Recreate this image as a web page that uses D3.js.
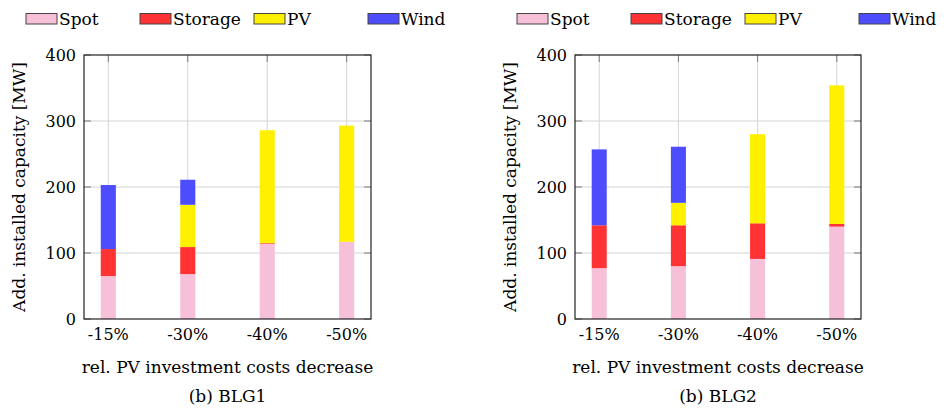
<!DOCTYPE html>
<html>
<head>
<meta charset="utf-8">
<script src="https://cdn.jsdelivr.net/npm/d3@7"></script>
<style>
  html, body { margin: 0; padding: 0; background: #fff; }
  svg { display: block; }
  text { font-family: "DejaVu Serif", "Liberation Serif", serif; fill: #000; }
</style>
</head>
<body>
<svg id="chart" width="944" height="412"></svg>
<script>
const categories = ["-15%", "-30%", "-40%", "-50%"];
const seriesNames = ["Spot", "Storage", "PV", "Wind"];
const seriesColors = ["#f6c0d8", "#ff3333", "#fff000", "#4d4dff"];
const yTicks = [0, 100, 200, 300, 400];

const blg1Spot = [65, 68, 114, 117];
const blg1Storage = [41, 41, 1, 0];
const blg1PV = [0, 64, 171, 176];
const blg1Wind = [97, 38, 0, 0];

const blg2Spot = [77, 80, 91, 140];
const blg2Storage = [65, 62, 54, 4];
const blg2PV = [0, 34, 135, 210];
const blg2Wind = [115, 85, 0, 0];

const yLabel = "Add. installed capacity [MW]";
const xLabel = "rel. PV investment costs decrease";
const captions = ["(b) BLG1", "(b) BLG2"];

const panels = [
  { x0: 84, x1: 371, caption: captions[0], series: [blg1Spot, blg1Storage, blg1PV, blg1Wind] },
  { x0: 575, x1: 861, caption: captions[1], series: [blg2Spot, blg2Storage, blg2PV, blg2Wind] }
];

const svg = d3.select("#chart");
const yTop = 55, yBottom = 319;
const y = d3.scaleLinear().domain([0, 400]).range([yBottom, yTop]);

panels.forEach(p => {
  const g = svg.append("g");
  const x = d3.scalePoint().domain(categories).range([p.x0, p.x1]).padding(0.306);
  const bw = x.step() * 0.19;

  // grid
  g.selectAll(".hgrid").data(yTicks.filter(t => t > 0 && t < 400)).enter().append("line")
    .attr("x1", p.x0).attr("x2", p.x1)
    .attr("y1", d => y(d)).attr("y2", d => y(d))
    .attr("stroke", "#d4d4d4").attr("stroke-width", 1);
  g.selectAll(".vgrid").data(categories).enter().append("line")
    .attr("x1", d => x(d)).attr("x2", d => x(d))
    .attr("y1", yTop).attr("y2", yBottom)
    .attr("stroke", "#d4d4d4").attr("stroke-width", 1);

  // ticks (inward, all sides)
  const tickLen = 7;
  const tg = g.append("g").attr("stroke", "#7a7a7a").attr("stroke-width", 1);
  yTicks.forEach(t => {
    tg.append("line").attr("x1", p.x0).attr("x2", p.x0 + tickLen).attr("y1", y(t)).attr("y2", y(t));
    tg.append("line").attr("x1", p.x1).attr("x2", p.x1 - tickLen).attr("y1", y(t)).attr("y2", y(t));
  });
  categories.forEach(c => {
    tg.append("line").attr("x1", x(c)).attr("x2", x(c)).attr("y1", yTop).attr("y2", yTop + tickLen);
    tg.append("line").attr("x1", x(c)).attr("x2", x(c)).attr("y1", yBottom).attr("y2", yBottom - tickLen);
  });

  // stacked bars
  const rows = categories.map((c, i) => {
    const r = { cat: c };
    seriesNames.forEach((s, k) => r[s] = p.series[k][i]);
    return r;
  });
  const stacked = d3.stack().keys(seriesNames)(rows);
  stacked.forEach((layer, k) => {
    g.append("g").attr("fill", seriesColors[k])
      .selectAll("rect").data(layer.filter(d => d[1] - d[0] > 0)).enter().append("rect")
      .attr("x", d => x(d.data.cat) - bw / 2)
      .attr("width", bw)
      .attr("y", d => y(d[1]))
      .attr("height", d => y(d[0]) - y(d[1]));
  });

  // frame
  g.append("rect").attr("x", p.x0).attr("y", yTop)
    .attr("width", p.x1 - p.x0).attr("height", yBottom - yTop)
    .attr("fill", "none").attr("stroke", "#222").attr("stroke-width", 1.2);

  // y tick labels
  g.selectAll(".ylab").data(yTicks).enter().append("text")
    .attr("x", p.x0 - 8).attr("y", d => y(d)).attr("dy", "0.35em")
    .attr("text-anchor", "end").attr("font-size", 16).text(d => d);

  // x tick labels
  g.selectAll(".xlab").data(categories).enter().append("text")
    .attr("x", d => x(d)).attr("y", 340)
    .attr("text-anchor", "middle").attr("font-size", 16).text(d => d);

  // x axis label
  g.append("text").attr("x", (p.x0 + p.x1) / 2).attr("y", 373)
    .attr("text-anchor", "middle").attr("font-size", 17).text(xLabel);
  // caption
  g.append("text").attr("x", (p.x0 + p.x1) / 2).attr("y", 402)
    .attr("text-anchor", "middle").attr("font-size", 17).text(p.caption);
  // y label
  g.append("text").attr("transform", `translate(${p.x0 - 59},${(yTop + yBottom) / 2}) rotate(-90)`)
    .attr("text-anchor", "middle").attr("font-size", 17).text(yLabel);

  // legend
  const lg = g.append("g");
  seriesNames.forEach((s, k) => {
    const lx = p.x0 - 58 + k * 114;
    lg.append("rect").attr("x", lx).attr("y", 13.5).attr("width", 31).attr("height", 10.5)
      .attr("fill", seriesColors[k]).attr("stroke", "#444").attr("stroke-width", 1);
    lg.append("text").attr("x", lx + 33).attr("y", 25).attr("font-size", 17).text(s);
  });
});
</script>
</body>
</html>
